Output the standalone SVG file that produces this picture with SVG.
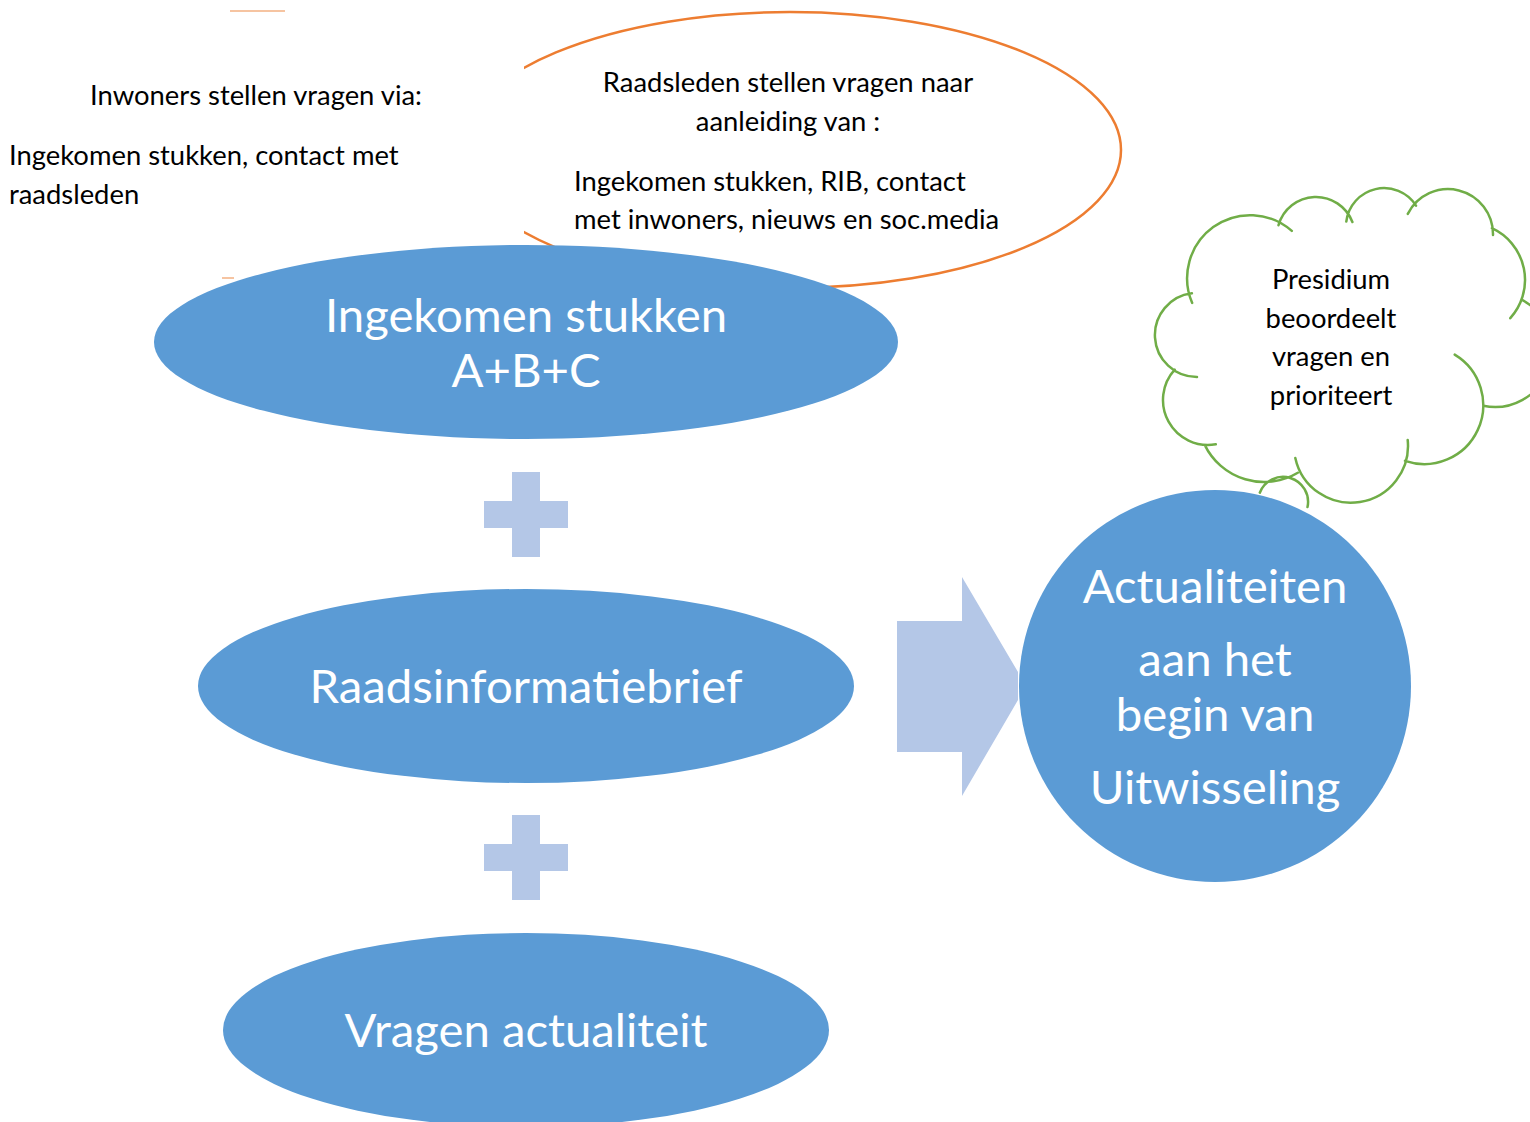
<svg xmlns="http://www.w3.org/2000/svg" width="1530" height="1122" viewBox="0 0 1530 1122">
<style>
.blue{fill:#5B9BD5}
.light{fill:#B4C7E7}
.t{font-family:Lato,"Liberation Sans",sans-serif;fill:#000;font-size:27.4px}
.w{font-family:Lato,"Liberation Sans",sans-serif;fill:#fff;font-size:47.3px;text-anchor:middle}
.c{text-anchor:middle}
.cloud{fill:none;stroke:#70AD47;stroke-width:2.5;stroke-linecap:round}
</style>
<defs>
<clipPath id="clipO"><rect x="524" y="0" width="1006" height="1122"/></clipPath>
</defs>
<rect width="1530" height="1122" fill="#fff"/>
<g id="vragen-raadsleden">
<ellipse cx="790" cy="150" rx="331" ry="138" fill="none" stroke="#ED7D31" stroke-width="2.5" clip-path="url(#clipO)"/>
<line x1="230" y1="11" x2="285" y2="11" stroke="#ED7D31" stroke-width="1.5" opacity="0.6"/>
<line x1="222" y1="278" x2="234" y2="278" stroke="#ED7D31" stroke-width="1.5" opacity="0.6"/>
<text class="t c" x="788" y="92">Raadsleden stellen vragen naar</text>
<text class="t c" x="788" y="131">aanleiding van :</text>
<text class="t" x="574" y="191">Ingekomen stukken, RIB, contact</text>
<text class="t" x="574" y="229">met inwoners, nieuws en soc.media</text>
</g>
<g id="vragen-inwoners">
<text class="t" x="90" y="105">Inwoners stellen vragen via:</text>
<text class="t" x="9" y="165">Ingekomen stukken, contact met</text>
<text class="t" x="9" y="204">raadsleden</text>
</g>
<g id="ingekomen-stukken">
<ellipse class="blue" cx="526" cy="342" rx="372" ry="97"/>
<text class="w" x="526" y="332">Ingekomen stukken</text>
<text class="w" x="526" y="387">A+B+C</text>
</g>
<g id="plus1">
<rect class="light" x="512" y="472" width="28" height="85"/>
<rect class="light" x="484" y="501" width="84" height="27"/>
</g>
<g id="raadsinformatiebrief">
<ellipse class="blue" cx="526" cy="686" rx="328" ry="97"/>
<text class="w" x="526" y="703">Raadsinformatiebrief</text>
</g>
<g id="plus2">
<rect class="light" x="512" y="815" width="28" height="85"/>
<rect class="light" x="484" y="844" width="84" height="27"/>
</g>
<g id="vragen-actualiteit">
<ellipse class="blue" cx="526" cy="1030" rx="303" ry="97"/>
<text class="w" x="526" y="1047">Vragen actualiteit</text>
</g>
<g id="connectors">
<polygon class="light" points="897,621 962,621 962,577 1018,672 1018,700 962,796 962,752 897,752"/>
</g>
<g id="presidium">
<path class="cloud" d="M1197,377 A42,42 0 0 1 1191.9,293.3
M1192.2,302.9 A63,63 0 0 1 1291.8,230.9
M1278.5,225.2 A39,39 0 0 1 1352.4,222
M1346.3,221.6 A38,38 0 0 1 1416,205.6
M1407.8,213.9 A45,45 0 0 1 1493,235
M1491.9,228.2 A57,57 0 0 1 1510.3,318.2
M1522.1,299.9 A57,57 0 0 1 1483.3,405.8
M1454.7,354.6 A59,59 0 0 1 1405,460.9
M1407.7,440 A57,57 0 0 1 1295.3,457.9
M1259.8,492.7 A25,25 0 0 1 1307.5,507.1
M1204.8,445.1 A66,66 0 0 0 1297.8,472.7
M1174.7,369.7 A45,45 0 0 0 1215.8,444.3"/>
<text class="t c" x="1331" y="289">Presidium</text>
<text class="t c" x="1331" y="328">beoordeelt</text>
<text class="t c" x="1331" y="366">vragen en</text>
<text class="t c" x="1331" y="405">prioriteert</text>
</g>
<g id="actualiteiten">
<circle class="blue" cx="1215" cy="686" r="196"/>
<text class="w" x="1215" y="603">Actualiteiten</text>
<text class="w" x="1215" y="676">aan het</text>
<text class="w" x="1215" y="731">begin van</text>
<text class="w" x="1215" y="804">Uitwisseling</text>
</g>
</svg>
